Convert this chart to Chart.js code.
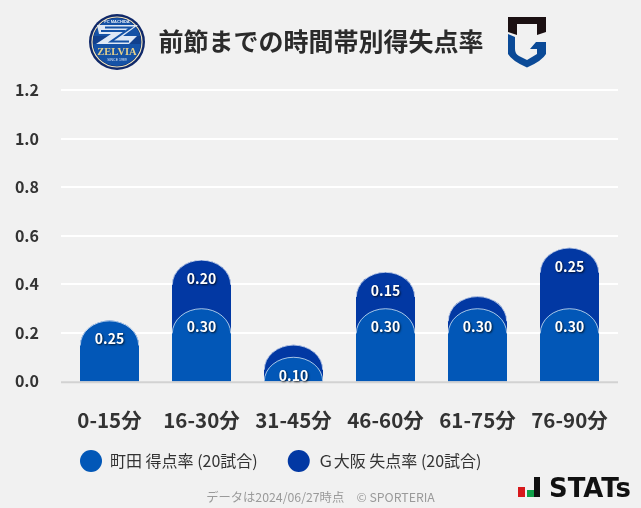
<!DOCTYPE html>
<html lang="ja"><head><meta charset="utf-8">
<script src="https://cdn.jsdelivr.net/npm/chart.js@4"></script>
<style>
html,body{margin:0;padding:0;background:#f1f1f1;width:641px;height:508px;overflow:hidden}
#wrap{position:relative;width:641px;height:508px}
canvas{position:absolute;left:0;top:0}
svg{position:absolute}
</style></head><body>
<div id="wrap"><canvas id="c" width="641" height="508"></canvas>
<svg style="left:85px;top:10px" width="64" height="64" viewBox="0 0 64 64">
 <circle cx="32" cy="32" r="28" fill="#10296a"/><circle cx="32" cy="32" r="25" fill="none" stroke="#f0e6c0" stroke-width="1.2"/>
 <circle cx="32" cy="32" r="24" fill="#1552a6"/>
 <path d="M8 26H56V34H8Z" fill="#0e2d74" opacity=".5"/>
 <path d="M12 15H53L38 26H52L44 34H11L26 24H14Z" fill="#dfe8f5"/>
 <path d="M20 17.5H46L26 31.5H44M16 21H40" fill="none" stroke="#1552a6" stroke-width="2"/>
 <text x="32" y="13" text-anchor="middle" font-family="Liberation Sans" font-weight="700" font-size="4" fill="#e6edf7">FC MACHIDA</text>
 <text x="32" y="45" text-anchor="middle" font-family="Liberation Serif" font-weight="700" font-size="10.5" fill="#e8d18a">ZELVIA</text>
 <text x="32" y="50.5" text-anchor="middle" font-family="Liberation Sans" font-size="3.5" fill="#dfe8f5">SINCE 1989</text>
</svg>
<svg style="left:506px;top:16px" width="42" height="54" viewBox="0 0 42 54">
 <path d="M2 1H40V16L31 19V8H11V19L2 16Z" fill="#1b1012"/>
 <path d="M2 18L9 21V33Q9 38 13 40L21 44L31 38V33H24L30 26H40V38Q36 45 21 51.5Q6 45 2 38Z" fill="#0b4a97"/>
</svg>
<svg style="left:516px;top:474px" width="122" height="28" viewBox="0 0 122 28">
 <rect x="2" y="13" width="7" height="10" fill="#d7191c"/>
 <rect x="11" y="16" width="7" height="7" fill="#11a14a"/><rect x="18" y="3" width="6" height="20" fill="#111"/>
 <text x="33" y="23" font-family="DejaVu Sans" font-weight="700" font-size="26" fill="#111" textLength="82" lengthAdjust="spacingAndGlyphs">STATs</text>
</svg>
</div>
<script>
const categories = ['0-15分','16-30分','31-45分','46-60分','61-75分','76-90分'];
const machidaValues = [0.25,0.30,0.10,0.30,0.30,0.30];
const gambaValues = [0,0.20,0.05,0.15,0.05,0.25];
const machidaLabel = '町田 得点率 (20試合)';
const gambaLabel = 'Ｇ大阪 失点率 (20試合)';
const yTicks = [0,0.2,0.4,0.6,0.8,1.0,1.2];
const titleText = '前節までの時間帯別得失点率';
const footerText = 'データは2024/06/27時点　© SPORTERIA';
const FONT = '"Noto Sans CJK JP","Noto Sans",sans-serif';
const MIN_LABEL = 0.1;
const totals = machidaValues.map((v,i)=>v+gambaValues[i]);
const CAP = 25;

const barsPlugin = {
  id:'capBars',
  afterLayout(chart){
    chart.legend.left=50; chart.legend.top=423;
    chart.boxes.forEach(b=>{
      if(b.weight===2000){b.left+=13.25;b.right+=13.25;}
      if(b.weight===1500){b.left+=12.75;b.right+=12.75;}
    });
  },
  beforeDatasetsDraw(chart){
    const {ctx,chartArea:a,scales:{y}} = chart;
    ctx.save();
    ctx.strokeStyle='#fff';ctx.lineWidth=2;
    y.ticks.forEach(t=>{ if(t.value===0) return;
      const p=Math.round(y.getPixelForValue(t.value));
      ctx.beginPath();ctx.moveTo(a.left-2.5,p);ctx.lineTo(a.right+2.5,p);ctx.stroke();});
    ctx.restore();
  },
  beforeDatasetDraw(chart,args){
    const {ctx}=chart, ds=chart.data.datasets[args.index];
    args.meta.data.forEach(el=>{
      const {x,y,base,width}=el.getProps(['x','y','base','width'],true);
      const l=x-width/2,r=x+width/2,cap=Math.min(CAP,base-y);
      ctx.save();
      ctx.beginPath();
      ctx.moveTo(l,base);ctx.lineTo(l,y+cap);
      ctx.ellipse(x,y+cap,width/2,cap,0,Math.PI,2*Math.PI);
      ctx.lineTo(r,base);ctx.closePath();
      ctx.fillStyle=ds.backgroundColor;ctx.fill();
      ctx.beginPath();
      ctx.ellipse(x,y+cap,width/2-.3,cap-.3,0,Math.PI,2*Math.PI);
      ctx.strokeStyle='rgba(255,255,255,.65)';ctx.lineWidth=1;ctx.stroke();
      ctx.restore();
    });
    return false;
  },
  afterDatasetsDraw(chart){
    const {ctx,chartArea:a,scales:{y}}=chart;
    ctx.save();
    const p=y.getPixelForValue(0);
    ctx.strokeStyle='#d2d2d2';ctx.lineWidth=2;
    ctx.beginPath();ctx.moveTo(a.left-2.5,p+1);ctx.lineTo(a.right+2.5,p+1);ctx.stroke();
    ctx.font='700 14px '+FONT;ctx.textAlign='center';ctx.textBaseline='middle';
    chart.data.datasets.forEach((ds,i)=>{
      const vals=i===0?machidaValues:gambaValues;
      chart.getDatasetMeta(i).data.forEach((el,k)=>{
        if(vals[k]<MIN_LABEL) return;
        ctx.shadowColor='rgba(0,0,0,.75)';ctx.shadowBlur=2;ctx.shadowOffsetX=1;ctx.shadowOffsetY=1;
        ctx.fillStyle='#fff';
        ctx.fillText(vals[k].toFixed(2),el.x,el.y+18.5);
      });
    });
    ctx.restore();
  }
};

new Chart(document.getElementById('c'),{
  type:'bar',
  data:{labels:categories,datasets:[
    {label:machidaLabel,data:machidaValues,backgroundColor:'#0257b7',grouped:false,barThickness:59},
    {label:gambaLabel,data:totals,backgroundColor:'#0238a3',grouped:false,barThickness:59}
  ]},
  plugins:[barsPlugin],
  options:{
    responsive:false,animation:false,
    layout:{padding:{left:0,right:25.5,top:26,bottom:3}},
    scales:{
      x:{grid:{display:false,drawTicks:false},border:{display:false},
         ticks:{color:'#333',font:{family:FONT,size:20.5,weight:'700'},padding:27,maxRotation:0,autoSkip:false},
         afterFit(s){s.height=49;}},
      y:{min:0,max:1.2,afterBuildTicks(s){s.ticks=yTicks.map(v=>({value:v}));},
         grid:{display:false,drawTicks:false},border:{display:false},
         ticks:{color:'#333',font:{family:FONT,size:16,weight:'700'},padding:24.5,autoSkip:false,callback:v=>Number(v).toFixed(1)},
         afterFit(s){s.width=63.5;}}
    },
    plugins:{
      tooltip:{enabled:false},
      title:{display:true,text:titleText,color:'#2b2b2b',font:{family:FONT,size:25,weight:'700'},padding:{top:0,bottom:34}},
      subtitle:{display:true,position:'bottom',text:footerText,color:'#9a9a9a',font:{family:FONT,size:12.3,weight:'400'},padding:{top:4,bottom:0}},
      legend:{position:'bottom',align:'start',
        labels:{usePointStyle:true,pointStyle:'circle',pointStyleWidth:22,boxHeight:15.5,padding:30,color:'#333',font:{family:FONT,size:16}}}
    }
  }
});
</script></body></html>
